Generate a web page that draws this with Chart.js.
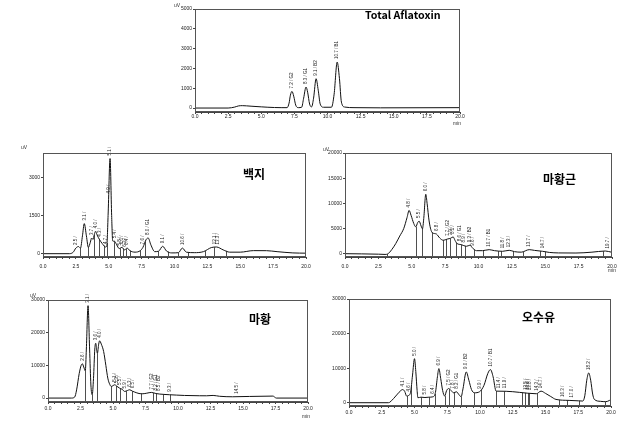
<!DOCTYPE html>
<html><head><meta charset="utf-8">
<script src="https://cdn.jsdelivr.net/npm/chart.js@4"></script>
<style>
body{margin:0;width:624px;height:424px;background:#fff;position:relative;overflow:hidden;font-family:"Liberation Sans",Arial,sans-serif}
.box{position:absolute}
.t{position:absolute;white-space:nowrap;color:#000;line-height:1}
.ttl{font-weight:bold;font-family:"Noto Sans CJK KR","Liberation Sans",sans-serif}
.sm{font-size:5px;color:#333}
</style></head><body>
<script>
// ---------- DATA ----------
const xTickValues = [0,0.5,1,1.5,2,2.5,3,3.5,4,4.5,5,5.5,6,6.5,7,7.5,8,8.5,9,9.5,10,10.5,11,11.5,12,12.5,13,13.5,14,14.5,15,15.5,16,16.5,17,17.5,18,18.5,19,19.5,20];

// Total Aflatoxin
const aflaTime  = [0,2.5,3.0,3.3,3.6,3.9,4.3,5.0,5.5,6.5,6.95,7.1,7.2,7.32,7.45,7.6,7.8,8.05,8.2,8.38,8.5,8.65,8.8,8.95,9.14,9.3,9.45,9.7,10.3,10.5,10.73,10.9,11.05,11.3,12,14,20];
const aflaValue = [0,0,50,110,120,110,90,60,40,20,20,250,650,840,600,150,20,40,500,1060,800,200,60,500,1480,900,200,40,40,700,2320,1500,300,50,20,10,20];
const aflaYTicks = [0,1000,2000,3000,4000,5000];
const aflaPeakTimes = [7.32,8.38,9.14,10.73];
const aflaPeakLabels = ["7.2 / G2","8.3 / G1","9.1 / B2","10.7 / B1"];
const aflaDrops = [];

// 백지
const baekTime  = [0,2.0,2.3,2.5,2.7,2.85,3.0,3.14,3.3,3.45,3.6,3.7,3.8,3.9,4.0,4.1,4.3,4.5,4.75,4.85,4.95,5.1,5.22,5.3,5.45,5.6,5.8,6.0,6.2,6.4,6.6,7.0,7.4,7.6,7.85,8.0,8.2,8.5,8.8,9.1,9.4,9.8,10.3,10.6,10.9,11.5,12.2,12.8,13.2,13.7,14.2,15,16,17,17.8,19,20];
const baekValue = [0,0,60,220,280,220,700,1180,700,250,450,615,560,750,880,750,550,400,262,300,1500,3733,1500,500,485,350,200,250,150,220,120,60,120,250,560,615,350,80,100,290,100,30,40,220,60,40,80,240,262,150,60,60,120,118,80,30,20];
const baekYTicks = [0,1500,3000];
const baekPeakTimes = [2.5,3.14,3.7,4.0,4.3,4.75,5.0,5.1,5.45,5.8,6.0,6.2,6.4,7.6,8.0,9.1,10.6,13.1,13.3];
const baekPeakLabels = ["2.5 /","3.1 /","3.7 /","4.0 /","4.3 /","4.7 /","4.9 /","5.1 /","5.4 /","5.8 /","6.0 /","6.2 /","6.4 /","7.6 /","8.0 / G1","9.1 /","10.6 /","13.1 /","13.3 /"];
const baekDrops = [2.84,3.46,3.9,4.27,4.64,4.86,5.43,5.85,6.1,6.3,6.6,7.4,7.78,8.77,9.5,10.25,11.0,12.35,13.0,13.9];

// 마황근
const mhgTime  = [0,2.5,3.0,3.2,3.5,3.8,4.1,4.4,4.65,4.8,4.95,5.15,5.3,5.45,5.55,5.7,5.8,5.9,6.05,6.15,6.3,6.5,6.7,6.85,7.1,7.35,7.5,7.7,7.9,8.1,8.25,8.4,8.7,8.9,9.1,9.35,9.6,9.85,10.3,10.8,11.2,11.8,12.3,12.7,13.2,13.8,14.2,14.8,15.3,16,17.3,18.5,19.5,20];
const mhgValue = [0,-100,-150,-50,800,2000,3500,5000,7200,8600,7600,6000,5330,6200,6470,5500,4930,7000,11800,10000,6500,4300,4000,3900,3100,2670,2750,2930,3050,3330,2600,2000,1800,1600,1470,1670,1000,600,600,800,600,470,670,400,300,800,650,470,250,150,130,300,530,270];
const mhgYTicks = [0,5000,10000,15000,20000];
const mhgPeakTimes = [4.8,5.55,6.05,6.85,7.7,7.9,8.1,8.6,8.9,9.35,9.6,10.8,11.8,12.3,13.8,14.8,19.7];
const mhgPeakLabels = ["4.8 /","5.5 /","6.0 /","6.8 /","7.7 / G2","7.9 /","8.1 /","8.6 / G1","8.9 /","9.3 / B2","9.6 /","10.7 / B1","11.8 /","12.3 /","13.7 /","14.7 /","19.7 /"];
const mhgDrops = [3.16,5.3,5.78,6.55,7.35,7.6,7.85,8.35,8.72,9.0,9.7,10.34,11.46,11.7,12.58,13.3,14.57,15.0,19.3];

// 마황
const mhTime  = [0,1.8,2.05,2.2,2.4,2.55,2.64,2.75,2.87,2.95,3.08,3.2,3.3,3.4,3.5,3.6,3.67,3.75,3.8,3.9,3.97,4.1,4.28,4.45,4.6,4.75,4.87,5.0,5.13,5.3,5.5,5.7,5.9,6.1,6.28,6.5,6.67,7.0,7.3,7.6,7.95,8.3,8.6,9.0,9.36,9.87,10.5,11.67,12.2,12.7,13.2,14.2,15.5,17.3,17.5,17.56,20];
const mhValue = [0,0,300,2500,7500,10000,10500,9500,8340,15000,28270,15000,4000,1000,6000,15000,16780,14500,13700,16500,17500,16500,14240,10000,6100,4200,3560,3800,4070,3600,3050,2700,2030,2300,2540,2100,1830,1400,1320,1500,1730,1400,1220,1100,1020,915,800,710,700,810,550,400,500,610,100,0,0];
const mhYTicks = [0,10000,20000,30000];
const mhPeakTimes = [2.64,3.08,3.67,3.97,5.13,5.3,5.5,5.9,6.28,6.5,7.95,8.3,8.5,9.36,14.5];
const mhPeakLabels = ["2.6 /","3.1 /","3.6 /","4.0 /","5.1 /","5.3 /","5.5 /","5.9 /","6.3 /","6.5 /","7.7 / G2","8.2 / G1","8.5 / B2","9.3 /","14.5 /"];
const mhDrops = [2.87,3.4,3.8,4.87,5.26,5.56,5.97,6.49,7.18,8.08,8.28,8.85,9.36];

// 오수유
const osyTime  = [0,3.0,3.1,3.4,3.7,3.95,4.1,4.25,4.4,4.55,4.7,4.85,5.0,5.1,5.2,5.26,5.5,5.8,6.1,6.4,6.6,6.75,6.86,7.0,7.15,7.3,7.45,7.6,7.8,7.98,8.2,8.4,8.56,8.7,8.95,9.15,9.35,9.58,9.96,10.3,10.6,10.8,11.0,11.23,12,13,14.3,14.66,15,15.4,15.8,16.8,17.5,17.84,18.0,18.15,18.3,18.45,18.6,18.73,19.2,19.6,19.9,20];
const osyValue = [0,0,100,1200,2500,3500,3810,3300,1920,2100,3000,8000,12740,9000,3500,1440,1600,1500,1600,1700,3000,7500,9870,7000,3500,1920,3500,4120,3500,2870,3160,2300,1720,4000,8910,6500,3800,2870,3160,5000,8500,9580,7500,3350,3300,3000,2590,3350,2700,1800,960,670,550,480,2000,6500,8620,6500,2500,960,400,290,700,960];
const osyYTicks = [0,10000,20000,30000];
const osyPeakTimes = [4.1,4.6,5.0,5.8,6.4,6.86,7.6,7.9,8.2,8.95,9.96,10.8,11.4,11.9,13.5,13.65,13.8,14.3,14.66,16.3,17.0,18.3];
const osyPeakLabels = ["4.1 /","4.6 /","5.0 /","5.8 /","6.4 /","6.9 /","7.5 / G2","7.8 /","8.2 / G1","9.0 / B2","9.9 /","10.7 / B1","11.4 /","11.9 /","13.5 /","13.6 /","13.8 /","14.3 /","14.7 /","16.3 /","17.0 /","18.2 /"];
const osyDrops = [4.42,4.75,5.46,6.07,6.53,7.3,7.67,7.98,8.56,9.58,10.09,11.23,11.82,13.19,13.47,13.65,13.77,14.36,16.06,16.65,17.59,19.57];

// ---------- LAYOUT / STYLE ----------
const panels = [
  {time:aflaTime, value:aflaValue, yTicks:aflaYTicks, pk:aflaPeakTimes, pkl:aflaPeakLabels, drops:aflaDrops,
   area:{l:195,t:9,r:460,b:112}, ymin:-200, ymax:5000, xPad:0},
  {time:baekTime, value:baekValue, yTicks:baekYTicks, pk:baekPeakTimes, pkl:baekPeakLabels, drops:baekDrops,
   area:{l:43,t:153,r:306,b:257}, ymin:-130, ymax:3950, xPad:5},
  {time:mhgTime, value:mhgValue, yTicks:mhgYTicks, pk:mhgPeakTimes, pkl:mhgPeakLabels, drops:mhgDrops,
   area:{l:345,t:153,r:612,b:257}, ymin:-660, ymax:20000, xPad:5},
  {time:mhTime, value:mhValue, yTicks:mhYTicks, pk:mhPeakTimes, pkl:mhPeakLabels, drops:mhDrops,
   area:{l:48,t:300,r:308,b:402}, ymin:-1200, ymax:30000, xPad:2},
  {time:osyTime, value:osyValue, yTicks:osyYTicks, pk:osyPeakTimes, pkl:osyPeakLabels, drops:osyDrops,
   area:{l:349,t:299,r:611,b:406}, ymin:-950, ymax:30000, xPad:2}
];

function interp(ts, vs, t){
  if (t<=ts[0]) return vs[0];
  for (let i=1;i<ts.length;i++){
    if (t<=ts[i]){ const f=(t-ts[i-1])/(ts[i]-ts[i-1]); return vs[i-1]+f*(vs[i]-vs[i-1]); }
  }
  return vs[vs.length-1];
}

const framePlugin = {
  id:'frame',
  afterDraw(chart){
    const a=chart.chartArea, c=chart.ctx;
    c.save(); c.strokeStyle='#555'; c.lineWidth=1;
    c.strokeRect(Math.round(a.left)+0.5, Math.round(a.top)+0.5, Math.round(a.right-a.left)-1, Math.round(a.bottom-a.top)-1);
    c.restore();
  }
};
const chromPlugin = {
  id:'chrom',
  afterDatasetsDraw(chart, args, opts){
    const p=opts.panel, c=chart.ctx, xs=chart.scales.x, ys=chart.scales.y, a=chart.chartArea;
    c.save();
    c.strokeStyle='#222'; c.lineWidth=0.8;
    p.drops.forEach(t=>{
      const x=Math.round(xs.getPixelForValue(t))+0.5;
      c.beginPath(); c.moveTo(x, ys.getPixelForValue(interp(p.time,p.value,t))); c.lineTo(x, a.bottom); c.stroke();
    });
    c.fillStyle='#222'; c.font='4.5px "Liberation Sans", Arial, sans-serif';
    c.textAlign='left'; c.textBaseline='middle';
    p.pk.forEach((t,i)=>{
      const x=xs.getPixelForValue(t), y=ys.getPixelForValue(interp(p.time,p.value,t))-3;
      c.save(); c.translate(x,y); c.rotate(-Math.PI/2); c.fillText(p.pkl[i],0,0); c.restore();
    });
    c.restore();
  }
};

const yW=30, xH=16, padT=6, padR=10;
panels.forEach(p=>{
  const a=p.area;
  const W=yW+(a.r-a.l)+padR, H=padT+(a.b-a.t)+xH;
  const div=document.createElement('div'); div.className='box';
  div.style.left=(a.l-yW)+'px'; div.style.top=(a.t-padT)+'px';
  div.style.width=W+'px'; div.style.height=H+'px';
  const cv=document.createElement('canvas'); cv.width=W; cv.height=H;
  cv.style.width=W+'px'; cv.style.height=H+'px';
  div.appendChild(cv); document.body.appendChild(div);
  new Chart(cv,{
    type:'line',
    data:{datasets:[{data:p.time.map((t,i)=>({x:t,y:p.value[i]})), borderColor:'#111', borderWidth:1,
      pointRadius:0, cubicInterpolationMode:'monotone', fill:false}]},
    options:{
      responsive:false, animation:false, events:[],
      layout:{padding:{top:padT,right:padR,left:0,bottom:0}},
      plugins:{legend:{display:false}, tooltip:{enabled:false}, chrom:{panel:p}},
      scales:{
        x:{type:'linear', min:0, max:20,
          afterFit:s=>{s.height=xH;},
          afterBuildTicks:s=>{s.ticks=xTickValues.map(v=>({value:v}));},
          ticks:{autoSkip:false, maxRotation:0, padding:p.xPad, color:'#222',
            font:{size:5, family:'"Liberation Sans", Arial, sans-serif'},
            callback:v=>(Math.abs(v/2.5-Math.round(v/2.5))<1e-6 ? Number(v).toFixed(1) : '')},
          grid:{drawOnChartArea:false, tickLength:2, color:'#444'},
          border:{color:'#444'}},
        y:{min:p.ymin, max:p.ymax,
          afterFit:s=>{s.width=yW;},
          afterBuildTicks:s=>{s.ticks=p.yTicks.map(v=>({value:v}));},
          ticks:{padding:1, color:'#222', font:{size:5, family:'"Liberation Sans", Arial, sans-serif'},
            callback:v=>String(v)},
          grid:{drawOnChartArea:false, tickLength:2, color:'#444'},
          border:{color:'#444'}}
      }
    },
    plugins:[framePlugin, chromPlugin]
  });
});

// ---------- TEXTS ----------
const texts = [
  ['Total Aflatoxin', 365, 10, 'ttl', 10.7],
  ['백지', 243, 168, 'ttl', 12],
  ['마황근', 543, 173, 'ttl', 12],
  ['마황', 249, 313, 'ttl', 12],
  ['오수유', 522, 311, 'ttl', 12],
  ['uV', 174, 3, 'sm', 5],
  ['uV', 21, 145, 'sm', 5],
  ['uV', 323, 147, 'sm', 5],
  ['uV', 30, 293, 'sm', 5],
  ['min', 453, 121, 'sm', 5],
  ['min', 608, 268, 'sm', 5],
  ['min', 302, 414, 'sm', 5]
];
texts.forEach(([s,x,y,cls,fs])=>{
  const d=document.createElement('div'); d.className='t '+cls; d.textContent=s;
  d.style.left=x+'px'; d.style.top=y+'px'; d.style.fontSize=fs+'px';
  document.body.appendChild(d);
});
</script>
</body></html>
